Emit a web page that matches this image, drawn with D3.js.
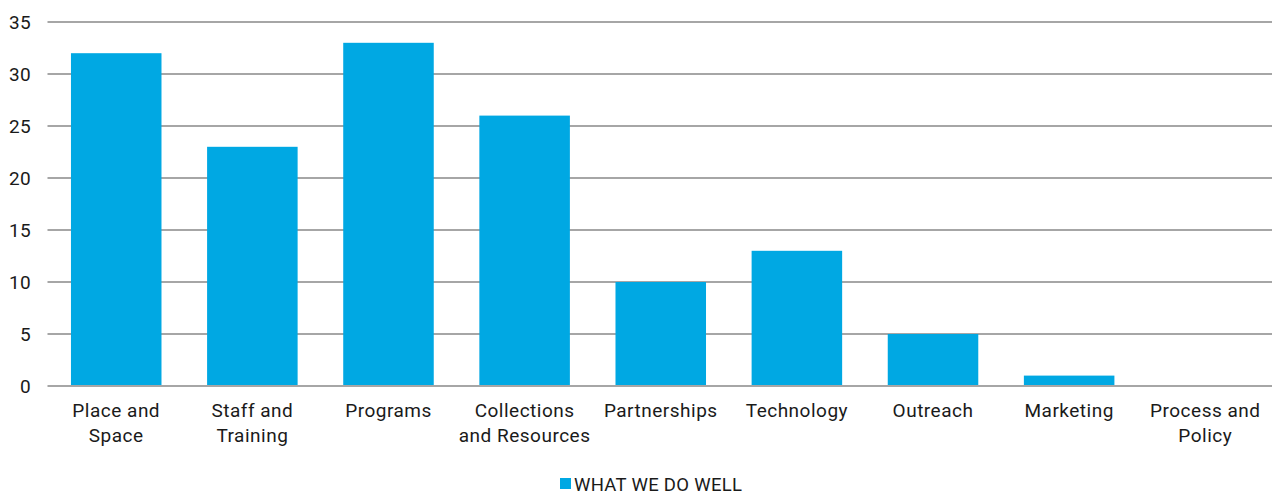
<!DOCTYPE html>
<html><head><meta charset="utf-8">
<script src="https://cdn.jsdelivr.net/npm/d3@7"></script>
<style>body{margin:0;background:#fff;} text{font-family:Roboto, "DejaVu Sans Condensed", sans-serif;fill:#1a1a1a;}</style>
</head><body><svg id="c" width="1272" height="495"></svg>
<script>
const categories = [["Place and","Space"],["Staff and","Training"],["Programs"],["Collections","and Resources"],["Partnerships"],["Technology"],["Outreach"],["Marketing"],["Process and","Policy"]];
const values = [32,23,33,26,10,13,5,1,0];
const yTicks = [0,5,10,15,20,25,30,35];
const seriesName = "WHAT WE DO WELL";
const color = "#00a8e3";

const svg = d3.select("#c");
const x = d3.scaleBand().domain(d3.range(categories.length)).range([48.5,1273]).paddingInner(0.335).paddingOuter(0.165);
const y = d3.scaleLinear().domain([0,35]).range([386,22]);

svg.append("g").selectAll("line").data(yTicks).join("line")
  .attr("x1",47.5).attr("x2",1272).attr("y1",d=>y(d)).attr("y2",d=>y(d))
  .attr("stroke","#a6a6a6").attr("stroke-width",2);

svg.append("g").selectAll("text").data(yTicks).join("text")
  .attr("x",31).attr("y",d=>y(d)).attr("dy","0.36em").attr("text-anchor","end")
  .style("font-size","19px").style("letter-spacing","0.3px").text(d=>d);

svg.append("g").selectAll("rect").data(values).join("rect")
  .attr("x",(d,i)=>x(i)).attr("width",x.bandwidth())
  .attr("y",d=>y(d)).attr("height",d=>y(0)-y(d)-1).attr("fill",color);

const lab = svg.append("g").selectAll("text").data(categories).join("text")
  .attr("text-anchor","middle").style("font-size","19px").style("letter-spacing","0.5px")
  .attr("transform",(d,i)=>`translate(${x(i)+x.bandwidth()/2},417)`);
lab.selectAll("tspan").data(d=>d).join("tspan").attr("x",0).attr("y",(d,j)=>j*25).text(d=>d);

const lg = svg.append("g");
lg.append("rect").attr("x",560).attr("y",478).attr("width",11).attr("height",11).attr("fill",color);
lg.append("text").attr("x",574).attr("y",484).attr("dy","0.36em").style("font-size","18.5px").style("letter-spacing","0.3px").text(seriesName);
</script></body></html>
